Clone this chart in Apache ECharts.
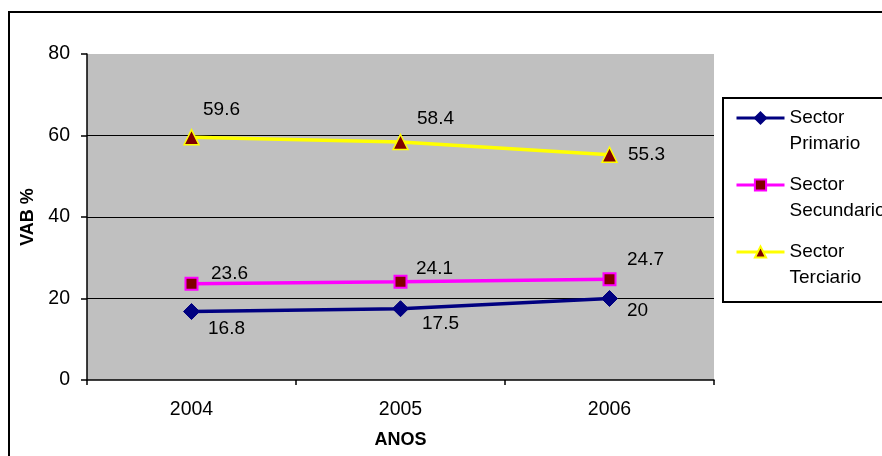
<!DOCTYPE html>
<html>
<head>
<meta charset="utf-8">
<script src="https://cdn.jsdelivr.net/npm/echarts@6/dist/echarts.min.js"></script>
<style>
html,body{margin:0;padding:0;background:#fff;}
#chart{width:882px;height:456px;}
</style>
</head>
<body>
<div id="chart"></div>
<script>
const categories = ['2004', '2005', '2006'];
const primario = [16.8, 17.5, 20];
const secundario = [23.6, 24.1, 24.7];
const terciario = [59.6, 58.4, 55.3];
const seriesNames = ['Sector Primario', 'Sector Secundario', 'Sector Terciario'];
const yTicks = { min: 0, max: 80, interval: 20 };

// label offsets (style only, relative to point centre)
const offPrim = [[35, 17], [40, 15], [28, 12]];
const offSec = [[38, -10], [34, -13], [36, -20]];
const offTer = [[30, -27], [35, -23], [37, 0]];

const FONT = 'Liberation Sans, Arial, sans-serif';

function build(values, offs) {
  return values.map((v, i) => ({ value: v, label: { offset: offs[i] } }));
}

const chart = echarts.init(document.getElementById('chart'), null, { renderer: 'canvas' });
chart.setOption({
  animation: false,
  backgroundColor: '#fff',
  textStyle: { fontFamily: FONT },
  graphic: [
    { type: 'rect', silent: true, z: -1, shape: { x: 9, y: 12, width: 900, height: 500 }, style: { fill: 'none', stroke: '#000', lineWidth: 2 } },
    { type: 'rect', silent: true, shape: { x: 723, y: 98, width: 200, height: 204 }, style: { fill: '#fff', stroke: '#000', lineWidth: 2 }, z: 0 }
  ],
  grid: { left: 87, right: 168, top: 54, bottom: 76, show: true, backgroundColor: '#C0C0C0', borderWidth: 0 },
  legend: {
    orient: 'vertical', left: 735, top: 79, padding: 0,
    itemWidth: 48, itemHeight: 14, itemGap: -11,
    data: seriesNames,
    lineStyle: { width: 3 },
    formatter: n => ' \n' + n.replace(' ', '\n'),
    textStyle: { fontFamily: FONT, fontSize: 19, color: '#000', lineHeight: 26 }
  },
  xAxis: {
    type: 'category', data: categories, boundaryGap: true,
    name: 'ANOS', nameLocation: 'middle', nameGap: 51,
    nameTextStyle: { fontFamily: FONT, fontSize: 18, fontWeight: 'bold', color: '#000' },
    axisLine: { lineStyle: { color: '#000', width: 1.5 } },
    axisTick: { show: true, length: 5, inside: false, alignWithLabel: false, lineStyle: { color: '#000', width: 1.5 } },
    axisLabel: { margin: 20, fontFamily: FONT, fontSize: 19.5, color: '#000' },
    splitLine: { show: false }
  },
  yAxis: {
    type: 'value', min: yTicks.min, max: yTicks.max, interval: yTicks.interval,
    name: 'VAB %', nameLocation: 'middle', nameGap: 49, nameRotate: 90,
    nameTextStyle: { fontFamily: FONT, fontSize: 18, fontWeight: 'bold', color: '#000' },
    axisLine: { show: true, lineStyle: { color: '#000', width: 1.5 } },
    axisTick: { show: true, length: 6, lineStyle: { color: '#000', width: 1.5 } },
    axisLabel: { margin: 17, fontFamily: FONT, fontSize: 19.5, color: '#000' },
    splitLine: { show: true, showMinLine: false, showMaxLine: false, lineStyle: { color: '#000', width: 1.2 } }
  },
  series: [
    {
      name: seriesNames[0], type: 'line', data: build(primario, offPrim),
      symbol: 'diamond', symbolSize: 16,
      lineStyle: { color: '#000080', width: 3.5 },
      itemStyle: { color: '#000080', borderColor: '#000080', borderWidth: 1 },
      label: { show: true, position: 'inside', fontFamily: FONT, fontSize: 19, color: '#000' }
    },
    {
      name: seriesNames[1], type: 'line', data: build(secundario, offSec),
      symbol: 'rect', symbolSize: 12,
      lineStyle: { color: '#FF00FF', width: 3.5 },
      itemStyle: { color: '#800000', borderColor: '#FF00FF', borderWidth: 2 },
      label: { show: true, position: 'inside', fontFamily: FONT, fontSize: 19, color: '#000' }
    },
    {
      name: seriesNames[2], type: 'line', data: build(terciario, offTer),
      symbol: 'triangle', symbolSize: 15,
      lineStyle: { color: '#FFFF00', width: 3.5 },
      itemStyle: { color: '#800000', borderColor: '#FFFF00', borderWidth: 1.5 },
      label: { show: true, position: 'inside', fontFamily: FONT, fontSize: 19, color: '#000' }
    }
  ]
});
</script>
</body>
</html>
